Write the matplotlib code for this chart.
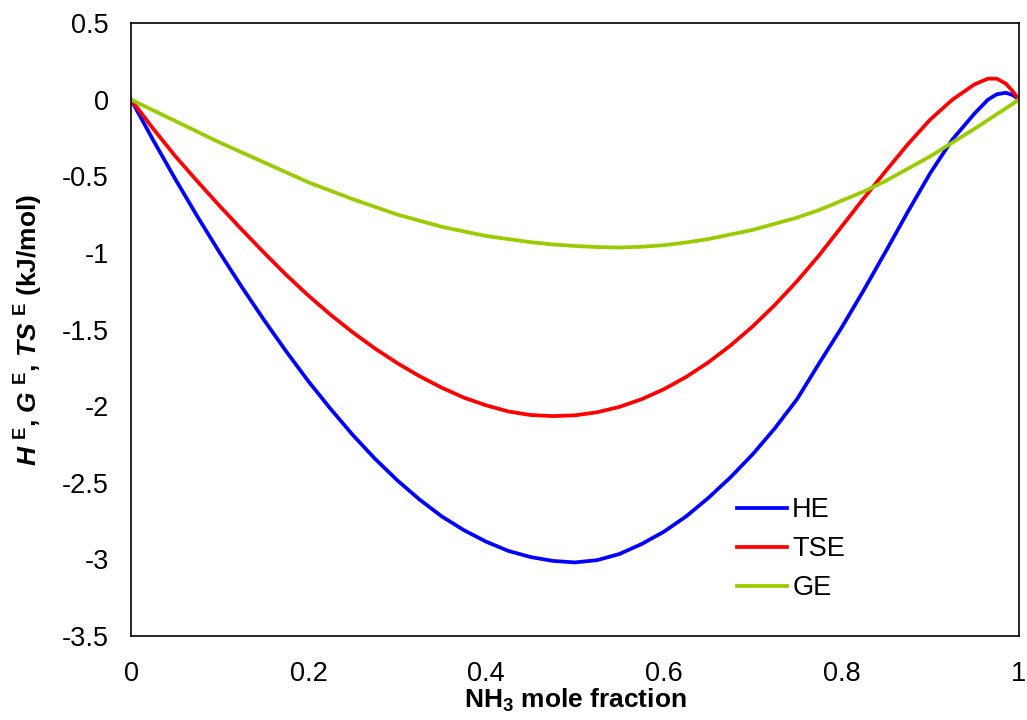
import matplotlib
matplotlib.use("Agg")
import matplotlib.pyplot as plt

plt.rcParams['font.family'] = ['Liberation Sans', 'DejaVu Sans']
plt.rcParams['mathtext.fontset'] = 'custom'
plt.rcParams['mathtext.rm'] = 'Liberation Sans:bold'
plt.rcParams['mathtext.bf'] = 'Liberation Sans:bold'
plt.rcParams['mathtext.it'] = 'Liberation Sans:bold:italic'
plt.rcParams['mathtext.bfit'] = 'Liberation Sans:bold:italic'

# mole fraction of NH3
x = [0.0, 0.025, 0.05, 0.075, 0.1, 0.125, 0.15, 0.175, 0.2, 0.225,
     0.25, 0.275, 0.3, 0.325, 0.35, 0.375, 0.4, 0.425, 0.45, 0.475,
     0.5, 0.525, 0.55, 0.575, 0.6, 0.625, 0.65, 0.675, 0.7, 0.725,
     0.75, 0.775, 0.8, 0.825, 0.85, 0.875, 0.9, 0.925, 0.95, 0.965,
     0.975, 0.985, 0.993, 1.0]

# excess enthalpy (kJ/mol)
he = [0.0, -0.265, -0.52, -0.765, -1.0, -1.225, -1.44, -1.645, -1.84, -2.02,
      -2.19, -2.345, -2.485, -2.61, -2.72, -2.81, -2.885, -2.945, -2.985, -3.01,
      -3.02, -3.005, -2.965, -2.90, -2.82, -2.72, -2.60, -2.465, -2.315, -2.145,
      -1.955, -1.72, -1.49, -1.245, -0.99, -0.73, -0.48, -0.26, -0.09, 0.0,
      0.035, 0.045, 0.03, 0.0]

# excess entropy term T*S (kJ/mol)
tse = [0.0, -0.19, -0.37, -0.535, -0.695, -0.85, -1.0, -1.145, -1.28, -1.405,
       -1.52, -1.625, -1.72, -1.805, -1.88, -1.945, -1.995, -2.035, -2.058, -2.065,
       -2.06, -2.04, -2.005, -1.955, -1.89, -1.81, -1.715, -1.605, -1.48, -1.34,
       -1.185, -1.015, -0.83, -0.645, -0.465, -0.29, -0.13, 0.0, 0.10, 0.137,
       0.137, 0.105, 0.055, 0.0]

# excess Gibbs energy (kJ/mol)
ge = [0.0, -0.07, -0.14, -0.21, -0.28, -0.345, -0.41, -0.475, -0.54, -0.595,
      -0.65, -0.70, -0.75, -0.79, -0.83, -0.86, -0.89, -0.91, -0.93, -0.945,
      -0.955, -0.962, -0.965, -0.96, -0.95, -0.932, -0.91, -0.88, -0.85, -0.81,
      -0.77, -0.72, -0.66, -0.60, -0.53, -0.45, -0.37, -0.28, -0.19, -0.133,
      -0.095, -0.057, -0.027, 0.0]

fig = plt.figure(figsize=(10.27, 7.2), dpi=100)
ax = fig.add_axes([0.1276, 0.1167, 0.8646, 0.8513])

ax.plot(x, he, color='#0000FF', lw=2.7, label='HE')
ax.plot(x, tse, color='#FF0000', lw=2.7, label='TSE')
ax.plot(x, ge, color='#99CC00', lw=2.7, label='GE')

ax.set_xlim(0, 1)
ax.set_ylim(-3.5, 0.5)
ax.set_xticks([0, 0.2, 0.4, 0.6, 0.8, 1])
ax.set_xticklabels(['0', '0.2', '0.4', '0.6', '0.8', '1'])
ax.set_yticks([0.5, 0, -0.5, -1, -1.5, -2, -2.5, -3, -3.5])
ax.set_yticklabels(['0.5', '0', '-0.5', '-1', '-1.5', '-2', '-2.5', '-3', '-3.5'])
ax.tick_params(axis='both', length=0, labelsize=19.5)
ax.tick_params(axis='y', pad=16)
ax.tick_params(axis='x', pad=18)
for s in ax.spines.values():
    s.set_linewidth(1.2)
    s.set_color('black')

ax.set_xlabel(r'NH$_\mathbf{3}$ mole fraction', fontsize=19, fontweight='bold', labelpad=0)
ax.set_ylabel(r'$\mathit{H}^{\mathbf{\ E}}$, $\mathit{G}^{\mathbf{\ E}}$, $\mathit{TS}^{\mathbf{\ E}}$ (kJ/mol)',
              fontsize=19, fontweight='bold', labelpad=12)

ax.legend(loc='upper left', bbox_to_anchor=(0.682, 0.226), frameon=False,
          fontsize=19.5, handlelength=1.85, handletextpad=0.2,
          labelspacing=0.48, borderaxespad=0, borderpad=0)

fig.savefig('out.png', dpi=100)
